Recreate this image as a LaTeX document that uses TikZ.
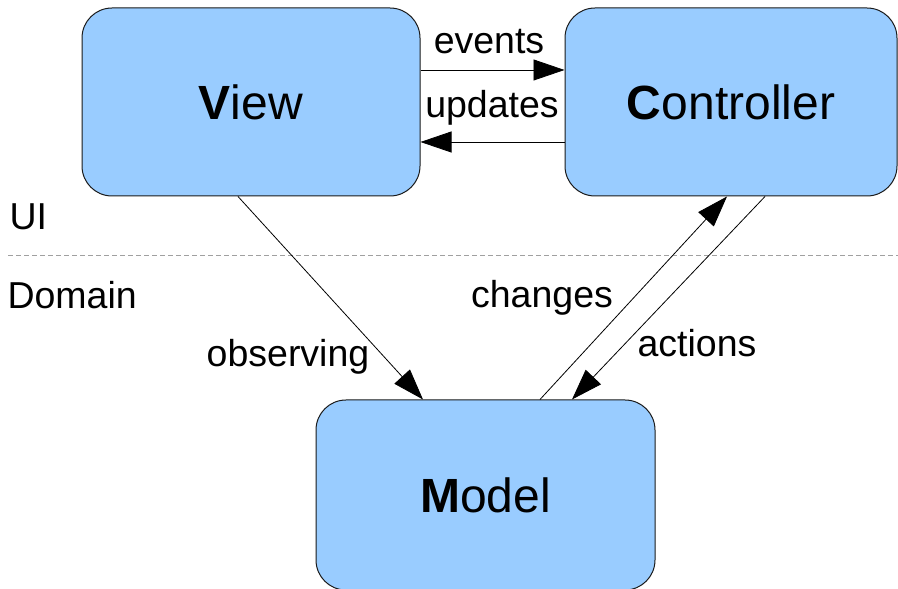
\documentclass[tikz,border=0pt]{standalone}
\usepackage{fontspec}
\setmainfont{Liberation Sans}
\usetikzlibrary{arrows.meta}
\usepackage{xcolor}
\definecolor{boxFill}{HTML}{99CCFF}
\definecolor{boxLine}{HTML}{1A1A1A}
\definecolor{layerLine}{HTML}{A0A0A0}
\tikzset{
    PartBox/.style={draw=boxLine, line width=1pt, fill=boxFill, rounded corners=30pt,
        font=\fontsize{48}{57}\selectfont},
    LinkText/.style={font=\fontsize{37.5}{45}\selectfont},
    LayerText/.style={font=\fontsize{37.5}{45}\selectfont, anchor=west},
    LinkArrow/.style={-{Triangle[length=31pt, width=21pt]}, line width=0.8pt}
}

\begin{document}
\begin{tikzpicture}[x=1pt, y=1pt]
    \useasboundingbox (0,0) rectangle (898,589);

    % die drei Teile
    \node[PartBox, minimum width=338pt, minimum height=188pt] (view) at (251,487) {\textbf{V}iew};
    \node[PartBox, minimum width=332pt, minimum height=188pt] (ctrl) at (731,487) {\textbf{C}ontroller};
    \node[PartBox, minimum width=339pt, minimum height=190pt] (model) at (485.5,94) {\textbf{M}odel};

    % Grenze UI / Domain
    \draw[layerLine, line width=1pt, dash pattern=on 5pt off 3pt] (8,333) -- (898,333);
    \node[LayerText] (ui) at (6,372) {UI};
    \node[LayerText] (domain) at (4,294) {Domain};

    % Verbindungen
    \draw[LinkArrow] ([yshift=32pt]view.east) -- ([yshift=32pt]ctrl.west);
    \draw[LinkArrow] ([yshift=-40pt]ctrl.west) -- ([yshift=-40pt]view.east);
    \draw[LinkArrow] ([xshift=-13pt]view.south) -- ([xshift=-62.5pt]model.north);
    \draw[LinkArrow] ([xshift=54.5pt]model.north) -- ([xshift=-4pt]ctrl.south);
    \draw[LinkArrow] ([xshift=34pt]ctrl.south) -- ([xshift=86.5pt]model.north);

    \node[LinkText] (events) at (489,547) {events};
    \node[LinkText] (updates) at (492,481) {updates};
    \node[LinkText] (observing) at (288,232) {observing};
    \node[LinkText] (changes) at (542,291) {changes};
    \node[LinkText] (actions) at (697,246) {actions};
\end{tikzpicture}
\end{document}
